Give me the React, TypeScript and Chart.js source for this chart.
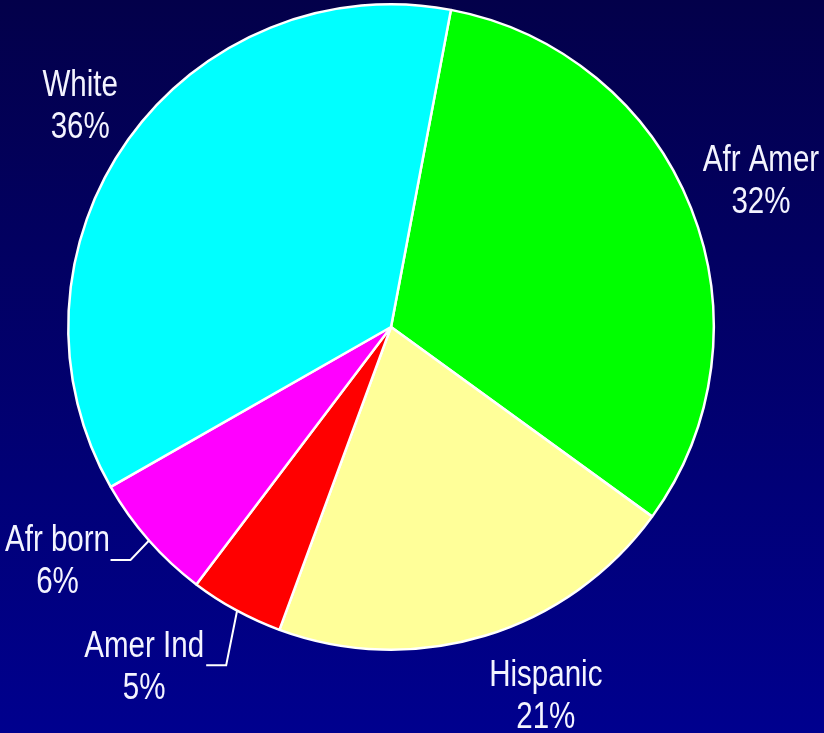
import React, { useEffect, useRef } from "react";
import { Chart, registerables } from "chart.js";

Chart.register(...registerables);

const categories = ["Afr Amer", "Hispanic", "Amer Ind", "Afr born", "White"];
const shares = [32.02, 20.62, 4.69, 6.44, 36.22];
const percentLabels = ["32%", "21%", "5%", "6%", "36%"];
const sliceColors = ["#00FF00", "#FFFF99", "#FF0000", "#FF00FF", "#00FFFF"];

// label placement relative to the outer edge point at the slice's mid angle
const labelOffsets = [
  { dx: 70, dy: -37, leader: null },
  { dx: 61, dy: 50, leader: null },
  { dx: -92, dy: 47, leader: { ex: -10, ey: 55, len: 20 } },
  { dx: -91, dy: 11, leader: { ex: -18, ey: 20, len: 20 } },
  { dx: -48, dy: -44, leader: null },
];

const FONT = '36px "Liberation Sans", Arial, sans-serif';
const NARROW = 0.82;

const backgroundPlugin = {
  id: "bgGradient",
  beforeDraw(chart: any) {
    const { ctx, width, height } = chart;
    const g = ctx.createLinearGradient(0, 0, 0, height);
    g.addColorStop(0, "#03004A");
    g.addColorStop(1, "#00008E");
    ctx.save();
    ctx.fillStyle = g;
    ctx.fillRect(0, 0, width, height);
    ctx.restore();
  },
};

function narrowText(ctx: CanvasRenderingContext2D, text: string, x: number, y: number) {
  ctx.save();
  ctx.translate(x, y);
  ctx.scale(NARROW, 1);
  ctx.fillText(text, 0, 0);
  ctx.restore();
}

const labelPlugin = {
  id: "sliceLabels",
  afterDraw(chart: any) {
    const { ctx } = chart;
    const meta = chart.getDatasetMeta(0);
    ctx.save();
    ctx.font = FONT;
    ctx.fillStyle = "#F4F4FF";
    ctx.textAlign = "center";
    ctx.textBaseline = "alphabetic";
    ctx.strokeStyle = "#FFFFFF";
    ctx.lineWidth = 2;
    meta.data.forEach((arc: any, i: number) => {
      const p = arc.getProps(["x", "y", "startAngle", "endAngle", "outerRadius"], true);
      const mid = (p.startAngle + p.endAngle) / 2;
      const ex = p.x + Math.cos(mid) * p.outerRadius;
      const ey = p.y + Math.sin(mid) * p.outerRadius;
      const off = labelOffsets[i];
      const lx = ex + off.dx;
      const ly = ey + off.dy;
      narrowText(ctx, categories[i], lx, ly);
      narrowText(ctx, percentLabels[i], lx, ly + 42);
      if (off.leader) {
        const kx = ex + off.leader.ex;
        const ky = ey + off.leader.ey;
        ctx.beginPath();
        ctx.moveTo(ex + 1, ey);
        ctx.lineTo(kx, ky);
        ctx.lineTo(kx - off.leader.len, ky);
        ctx.stroke();
      }
    });
    ctx.restore();
  },
};

export default function App() {
  const ref = useRef<HTMLCanvasElement | null>(null);
  useEffect(() => {
    document.body.style.margin = "0";
    const canvas = ref.current!;
    const chart = new Chart(canvas, {
      type: "pie",
      data: {
        labels: categories,
        datasets: [
          {
            data: shares,
            backgroundColor: sliceColors,
            borderColor: "#FFFFFF",
            borderWidth: 2.5,
          },
        ],
      },
      options: {
        animation: false,
        responsive: false,
        rotation: 10.7,
        layout: { padding: { left: 67, right: 109, top: 3, bottom: 82 } },
        plugins: { legend: { display: false }, tooltip: { enabled: false } },
      },
      plugins: [backgroundPlugin, labelPlugin],
    });
    return () => chart.destroy();
  }, []);
  return (
    <div style={{ width: 824, height: 733 }}>
      <canvas ref={ref} width={824} height={733} style={{ display: "block" }} />
    </div>
  );
}
